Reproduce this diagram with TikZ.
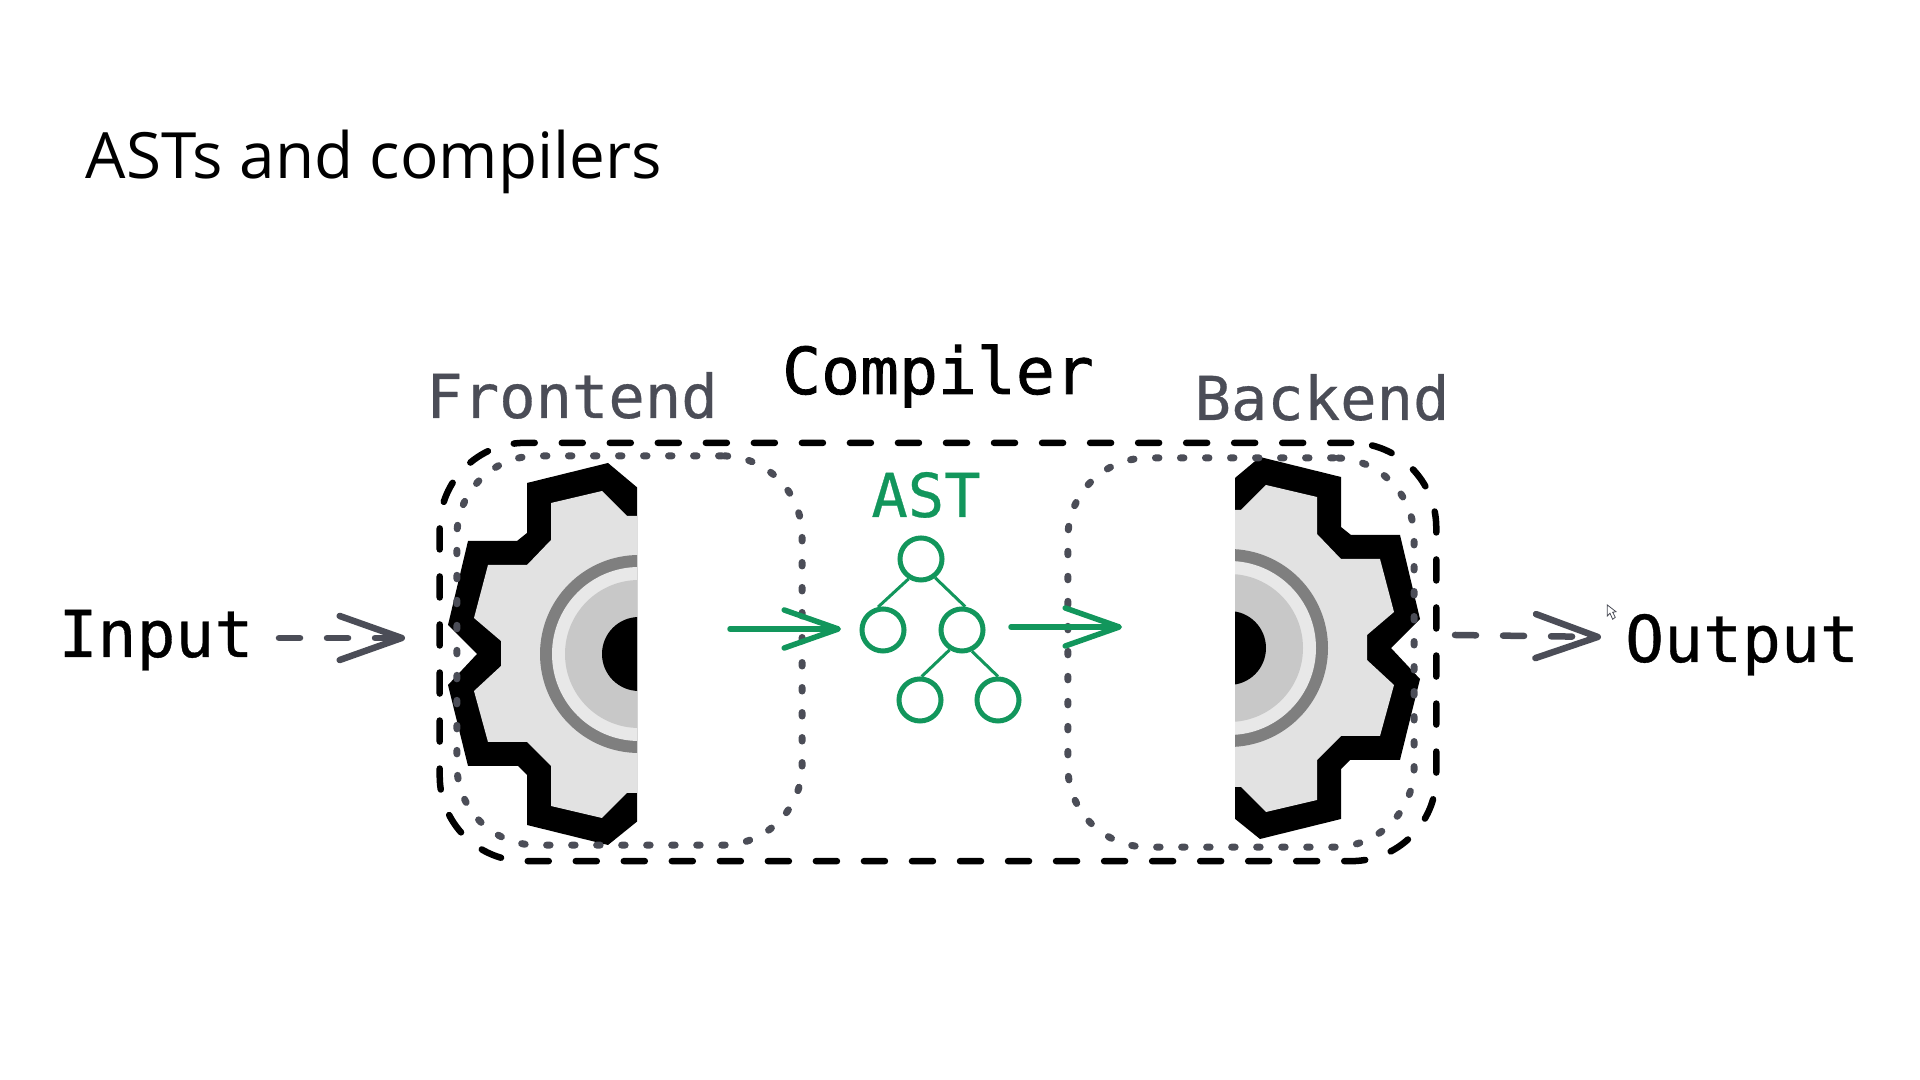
\documentclass[tikz,border=0pt]{standalone}
\usepackage{fontspec}
\setmainfont{Open Sans}
\newfontfamily\monolight[FakeBold=0.5]{DejaVu Sans Mono}
\newfontfamily\monoheavy[FakeBold=1.2]{DejaVu Sans Mono}
\usepackage{tikz}
\usetikzlibrary{arrows.meta}

\definecolor{astgreen}{HTML}{12965C}
\definecolor{slate}{HTML}{4B4D57}
\definecolor{gearbody}{HTML}{E2E2E2}
\definecolor{gearring}{HTML}{7F7F7F}
\definecolor{gearband}{HTML}{E8E8E8}
\definecolor{gearhub}{HTML}{C8C8C8}

\tikzset{
  monolabel/.style={font=\monolight\fontsize{18.4}{20}\selectfont, anchor=base, inner sep=0pt, text=black},
  partlabel/.style={font=\monolight\fontsize{17.2}{20}\selectfont, anchor=base, inner sep=0pt, text=slate},
  compilerbox/.style={rectangle, draw=black, line width=0.065cm, rounded corners=0.85cm,
    dash pattern=on 0.21cm off 0.27cm, line cap=round},
  partbox/.style={rectangle, draw=slate, line width=0.07cm, rounded corners=0.8cm,
    dash pattern=on 0.035cm off 0.215cm, line cap=round},
  astnode/.style={circle, draw=astgreen, line width=0.05cm, minimum size=0.42cm, inner sep=0pt},
  astedge/.style={draw=astgreen, line width=0.03cm},
  greenarrow/.style={draw=astgreen, line width=0.055cm, line cap=round,
    -{Straight Barb[length=0.54cm, width=0.38cm, round]}},
  grayarrow/.style={draw=slate, line width=0.065cm, line cap=round, dash pattern=on 0.21cm off 0.27cm,
    -{Straight Barb[length=0.62cm, width=0.44cm, round]}},
}

% half of a cog wheel: #1,#2 centre, #3 direction, #4 where it is cut off
\newcommand{\halfgear}[4]{
\begin{scope}[shift={(#1,#2)}, xscale=#3]
  \clip (-200,-200) rectangle (#4,200);
  \fill[black] (0,-165) -- (-31,-191) -- (-112,-171) -- (-112,-121) -- (-122,-113) -- (-171,-113)
    -- (-191,-29) -- (-162,0) -- (-191,31) -- (-171,112) -- (-121,112) -- (-112,121) -- (-112,171)
    -- (-31,191) -- (0,166) -- cycle;
  \fill[gearbody] (0,-138) -- (-12,-138) -- (-37,-163) -- (-88,-151) -- (-88,-114) -- (-112,-89)
    -- (-151,-89) -- (-165,-36) -- (-138,-13) -- (-138,12) -- (-165,37) -- (-151,88) -- (-112,88)
    -- (-88,112) -- (-88,152) -- (-37,164) -- (-12,139) -- (0,139) -- cycle;
  \fill[gearring] (0,0) circle (99);
  \fill[gearband] (0,0) circle (87);
  \fill[gearhub] (0,0) circle (74);
  \fill[black] (0,0) circle (37);
\end{scope}
}

\begin{document}
\begin{tikzpicture}[x=0.01cm, y=-0.01cm]
\useasboundingbox (0,0) rectangle (1920,1080);

\node[anchor=base west, inner sep=0pt, font=\fontsize{18.15}{20}\selectfont] (title) at (85,179) {ASTs and compilers};

% the two gears
\halfgear{639}{654}{1}{-2}
\halfgear{1229}{648}{-1}{-6}

% boxes
\node[compilerbox, minimum width=9.96cm, minimum height=4.18cm] (compiler) at (938,652) {};
\node[partbox, minimum width=3.45cm, minimum height=3.89cm] (frontend) at (629.5,650.5) {};
\node[partbox, minimum width=3.46cm, minimum height=3.89cm] (backend) at (1241,652.5) {};

% labels
\node[monolabel] (input) at (156,657) {Input};
\node[monolabel] (output) at (1742,662) {Output};
\node[monolabel, font=\monoheavy\fontsize{18.4}{20}\selectfont] (compilerlabel) at (938,394) {Compiler};
\node[partlabel] (frontendlabel) at (572,418) {Frontend};
\node[partlabel] (backendlabel) at (1322,420) {Backend};
\node[partlabel, text=astgreen] (astlabel) at (926,517) {AST};

% the tree
\node[astnode] (root) at (921,559) {};
\node[astnode] (left) at (883,630) {};
\node[astnode] (right) at (962,630) {};
\node[astnode] (leafa) at (920,700) {};
\node[astnode] (leafb) at (998,700) {};
\draw[astedge] (root.238)--(left.102);
\draw[astedge] (root.307)--(right.82);
\draw[astedge] (right.238)--(leafa.86);
\draw[astedge] (right.295)--(leafb.90);

% arrows
\coordinate (ina) at (730,629);
\coordinate (inb) at (841,629);
\coordinate (outa) at (1011,627);
\coordinate (outb) at (1122,627);
\draw[greenarrow] (ina)--(inb);
\draw[greenarrow] (outa)--(outb);
\coordinate (srca) at (279,638);
\coordinate (srcb) at (405,638);
\coordinate (dsta) at (1455,635);
\coordinate (dstb) at (1601,637);
\draw[grayarrow] (srca)--(srcb);
\draw[grayarrow] (dsta)--(dstb);

% mouse pointer
\draw[slate, line width=0.008cm, fill=white] (1607.3,605) -- (1607.3,616) -- (1610,613.3) -- (1612.7,619.3)
  -- (1615.3,617.3) -- (1612.7,612.3) -- (1616,611.7) -- cycle;
\end{tikzpicture}
\end{document}
